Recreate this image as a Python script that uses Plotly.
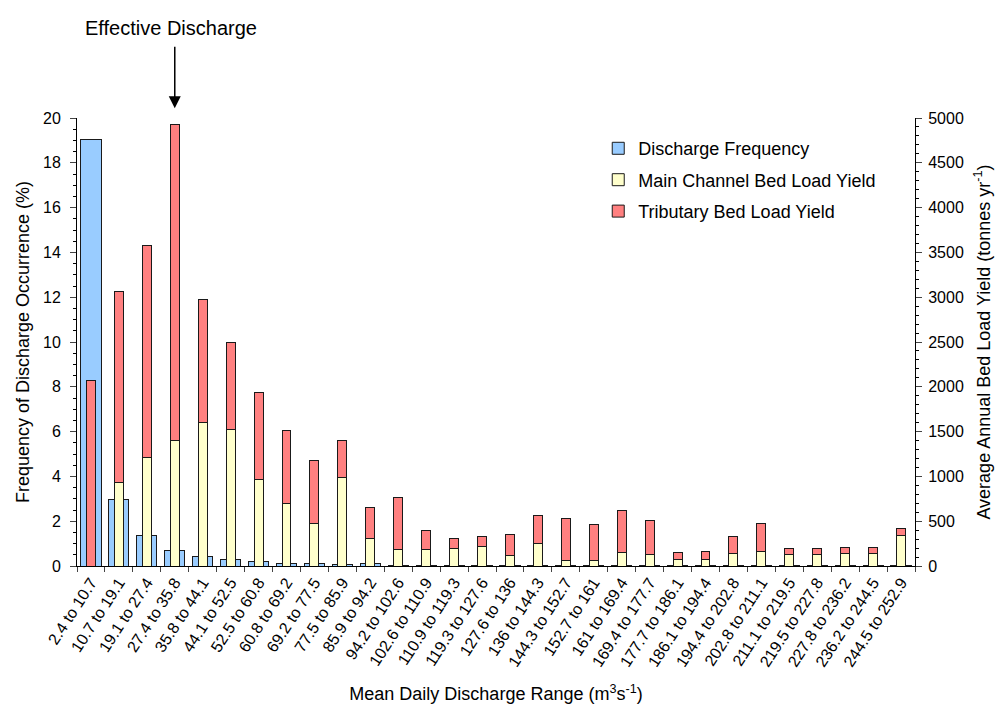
import plotly.graph_objects as go

categories = ["2.4 to 10.7", "10.7 to 19.1", "19.1 to 27.4", "27.4 to 35.8", "35.8 to 44.1",
              "44.1 to 52.5", "52.5 to 60.8", "60.8 to 69.2", "69.2 to 77.5", "77.5 to 85.9",
              "85.9 to 94.2", "94.2 to 102.6", "102.6 to 110.9", "110.9 to 119.3", "119.3 to 127.6",
              "127.6 to 136", "136 to 144.3", "144.3 to 152.7", "152.7 to 161", "161 to 169.4",
              "169.4 to 177.7", "177.7 to 186.1", "186.1 to 194.4", "194.4 to 202.8", "202.8 to 211.1",
              "211.1 to 219.5", "219.5 to 227.8", "227.8 to 236.2", "236.2 to 244.5", "244.5 to 252.9"]

# discharge frequency (%), left axis
freq = [19.06, 2.95, 1.34, 0.71, 0.41, 0.27, 0.18, 0.13, 0.10, 0.06,
        0.10, 0.03, 0.02, 0.02, 0.02, 0.02, 0.01, 0.01, 0.01, 0.01,
        0.01, 0.01, 0.01, 0.01, 0.01, 0.01, 0.01, 0.01, 0.01, 0.01]

# bed load yield (tonnes/yr), right axis
main_channel = [0, 937, 1216, 1406, 1607, 1518, 971, 703, 469, 993,
                312, 179, 179, 190, 223, 112, 246, 67, 67, 156,
                123, 78, 78, 145, 167, 123, 123, 134, 134, 346]
total_yield = [2065, 3069, 3582, 4922, 2969, 2500, 1931, 1507, 1172, 1406,
               658, 759, 391, 312, 324, 357, 569, 525, 458, 614,
               513, 156, 167, 324, 469, 190, 190, 201, 212, 424]
tributary = [t - m for t, m in zip(total_yield, main_channel)]

font = "Liberation Sans, Arial, sans-serif"
edge = dict(color="#1a1a1a", width=1)

fig = go.Figure()
fig.add_trace(go.Bar(x=categories, y=freq, name="Discharge Frequency", width=0.72,
                     marker=dict(color="#99CCFF", line=edge), legendgroup="a"))
fig.add_trace(go.Bar(x=categories, y=main_channel, name="Main Channel Bed Load Yield", width=0.32,
                     marker=dict(color="#FFFFCC", line=edge), yaxis="y2", legendgroup="b"))
fig.add_trace(go.Bar(x=categories, y=tributary, name="Tributary Bed Load Yield", width=0.32,
                     marker=dict(color="#FF8080", line=edge), yaxis="y2", legendgroup="c"))

fig.update_layout(
    width=1003, height=707,
    margin=dict(l=69, r=96, t=110, b=149),
    barmode="stack",
    plot_bgcolor="white", paper_bgcolor="white",
    font=dict(family=font, size=16, color="black"),
    showlegend=True,
    legend=dict(x=0.622, y=0.973, xanchor="left", yanchor="top",
                font=dict(size=18), tracegroupgap=5, bgcolor="rgba(0,0,0,0)"),
    xaxis=dict(showline=True, linecolor="black", linewidth=1, ticks="outside", ticklen=5,
               tickson="boundaries", tickangle=-57, showgrid=False,
               title=dict(text="Mean Daily Discharge Range (m<sup>3</sup>s<sup>-1</sup>)",
                          font=dict(size=18), standoff=18)),
    yaxis=dict(range=[0, 20], dtick=2, showline=True, linecolor="black", linewidth=1,
               ticks="outside", ticklen=6, showgrid=False, zeroline=False, ticklabelstandoff=6,
               minor=dict(dtick=0.5, ticks="outside", ticklen=3, tickcolor="black"),
               title=dict(text="Frequency of Discharge Occurrence (%)", font=dict(size=18), standoff=8)),
    yaxis2=dict(range=[0, 5000], dtick=500, overlaying="y", side="right", showline=True,
                linecolor="black", linewidth=1, ticks="outside", ticklen=6, showgrid=False,
                zeroline=False, ticklabelstandoff=3,
                minor=dict(dtick=100, ticks="outside", ticklen=3, tickcolor="black"),
                title=dict(text="Average Annual Bed Load Yield (tonnes yr<sup>-1</sup>)",
                           font=dict(size=18), standoff=14)),
)

# effective discharge arrow + label
fig.add_annotation(x=categories[3], y=1.022, xref="x", yref="paper", text="",
                   showarrow=True, ax=0, ay=-63, arrowhead=2, arrowsize=1.6, arrowwidth=1.5,
                   arrowcolor="black")
fig.add_annotation(x=categories[3], y=1.201, xref="x", yref="paper", text="Effective Discharge",
                   showarrow=False, xshift=-4, yanchor="middle", font=dict(size=20))

fig.write_html("out.html")
